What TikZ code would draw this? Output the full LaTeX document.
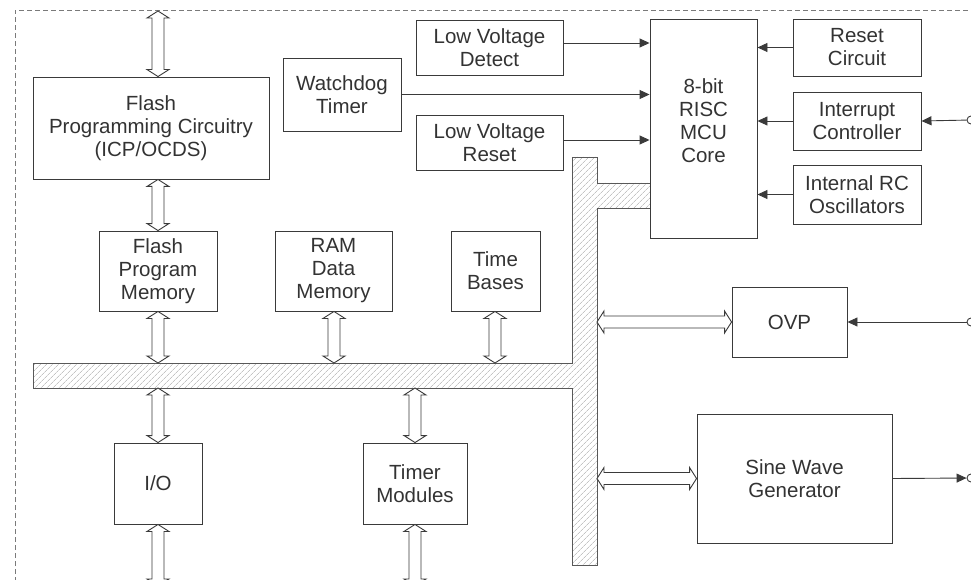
\documentclass[tikz,border=0pt]{standalone}
\usepackage{fontspec}
\setmainfont{Liberation Sans}
\usetikzlibrary{calc,arrows.meta,patterns.meta}
\definecolor{ln}{HTML}{3A3A3A}
\definecolor{tx}{HTML}{333333}
\definecolor{hatch}{HTML}{C4C4C4}
\definecolor{frame}{HTML}{7A7A7A}
\newcommand\hollowarr[2]{%
  \coordinate (ha) at (#1);
  \coordinate (hb) at (#2);
  \coordinate (ha1) at ($(ha)!7pt!(hb)$);
  \coordinate (hb1) at ($(hb)!7pt!(ha)$);
  \draw[hol] (ha) -- ($(ha1)!11pt!90:(hb)$) -- ($(ha1)!6pt!90:(hb)$)
    -- ($(hb1)!6pt!-90:(ha)$) -- ($(hb1)!11pt!-90:(ha)$) -- (hb)
    -- ($(hb1)!11pt!90:(ha)$) -- ($(hb1)!6pt!90:(ha)$)
    -- ($(ha1)!6pt!-90:(hb)$) -- ($(ha1)!11pt!-90:(hb)$) -- cycle;}
\begin{document}
\begin{tikzpicture}[x=1pt,y=-1pt,
  box/.style={draw=ln, line width=0.9pt, fill=white, align=center, text=tx,
    inner sep=0pt, font=\fontsize{20.5}{23}\selectfont},
  txt/.style={align=center, text=tx, inner sep=0pt, font=\fontsize{20.5}{23}\selectfont},
  sig/.style={draw=ln, line width=0.9pt, -{Triangle[length=10pt,width=9pt]}},
  hol/.style={draw=ln, line width=0.9pt, fill=white, line join=miter},
  term/.style={circle, draw=ln, line width=0.9pt, fill=white, inner sep=0pt, minimum size=8pt}]
\useasboundingbox (0,0) rectangle (971,580);
\clip (0,0) rectangle (971,580);
% dashed frame
\draw[frame, line width=0.9pt, dash pattern=on 5pt off 3pt] (15,590) -- (15,10) -- (980,10);
% bus
\draw[draw=ln!85, line width=0.9pt, pattern={Lines[angle=45,distance=4pt,line width=0.8pt]}, pattern color=hatch]
  (33,363) -- (572,363) -- (572,157) -- (597,157) -- (597,183) -- (650,183)
  -- (650,208) -- (597,208) -- (597,565) -- (572,565) -- (572,388) -- (33,388) -- cycle;
\coordinate (busR) at (597,0);
\coordinate (busT) at (0,363);
\coordinate (busB) at (0,388);
\coordinate (colA) at (158,0);
\coordinate (colR) at (334,0);
\coordinate (colT) at (495,0);
\coordinate (colM) at (415,0);
\coordinate (topA) at (158,11);
\coordinate (botA) at (158,586);
\coordinate (botM) at (415,586);
\coordinate (rowD) at (0,43);
\coordinate (rowR) at (0,140);
% boxes
\node[box, minimum width=236pt, minimum height=102pt] (fpc) at (151,128) {Flash\\Programming Circuitry\\(ICP/OCDS)};
\node[box, minimum width=118pt, minimum height=73pt] (wdt) at (342,94.5) {Watchdog\\Timer};
\node[box, minimum width=147pt, minimum height=55pt] (lvd) at (489.5,48) {Low Voltage\\Detect};
\node[box, minimum width=147pt, minimum height=55pt] (lvr) at (489.5,142.5) {Low Voltage\\Reset};
\node[box, minimum width=107pt, minimum height=219pt] (mcu) at (703.5,128.5) {};
\node[txt] (mcut) at (703.5,120.5) {8-bit\\RISC\\MCU\\Core};
\node[box, minimum width=128pt, minimum height=57pt] (rst) at (857,47.5) {Reset\\Circuit};
\node[box, minimum width=128pt, minimum height=58pt] (ic) at (857,121) {Interrupt\\Controller};
\node[box, minimum width=128pt, minimum height=59pt] (rc) at (857,194.5) {Internal RC\\Oscillators};
\node[box, minimum width=118pt, minimum height=80pt] (fpm) at (158,271) {Flash\\Program\\Memory};
\node[box, minimum width=117pt, minimum height=80pt] (ram) at (333.5,271) {RAM\\Data\\Memory};
\node[box, minimum width=89pt, minimum height=80pt] (tb) at (495.5,271) {Time\\Bases};
\node[box, minimum width=88pt, minimum height=81pt] (io) at (158,483.5) {I/O};
\node[box, minimum width=104pt, minimum height=81pt] (tm) at (415,483.5) {Timer\\Modules};
\node[box, minimum width=115pt, minimum height=70pt] (ovp) at (789.5,322) {OVP};
\node[box, minimum width=195pt, minimum height=129pt] (swg) at (794.5,478.5) {Sine Wave\\Generator};
% terminals
\node[term] (t1) at (971,120) {};
\node[term] (t2) at (971,322) {};
\node[term] (t3) at (971,478) {};
% signal arrows
\draw[sig] (lvd.east |- rowD) -- (mcu.west |- rowD);
\draw[sig] (wdt.east) -- (mcu.west |- wdt.east);
\draw[sig] (lvr.east |- rowR) -- (mcu.west |- rowR);
\draw[sig] (rst.west) -- (mcu.east |- rst.west);
\draw[sig] (ic.west) -- (mcu.east |- ic.west);
\draw[sig] (rc.west) -- (mcu.east |- rc.west);
\draw[sig] (t1) -- (ic.east);
\draw[sig] (t2) -- (ovp.east);
\draw[sig] (swg.east) -- (t3);
% hollow bus arrows
\hollowarr{topA}{fpc.north -| colA}
\hollowarr{fpc.south -| colA}{fpm.north -| colA}
\hollowarr{fpm.south -| colA}{busT -| colA}
\hollowarr{ram.south -| colR}{busT -| colR}
\hollowarr{tb.south -| colT}{busT -| colT}
\hollowarr{busB -| colA}{io.north -| colA}
\hollowarr{io.south -| colA}{botA}
\hollowarr{busB -| colM}{tm.north -| colM}
\hollowarr{tm.south -| colM}{botM}
\hollowarr{busR |- ovp.west}{ovp.west}
\hollowarr{busR |- swg.west}{swg.west}
\end{tikzpicture}
\end{document}
